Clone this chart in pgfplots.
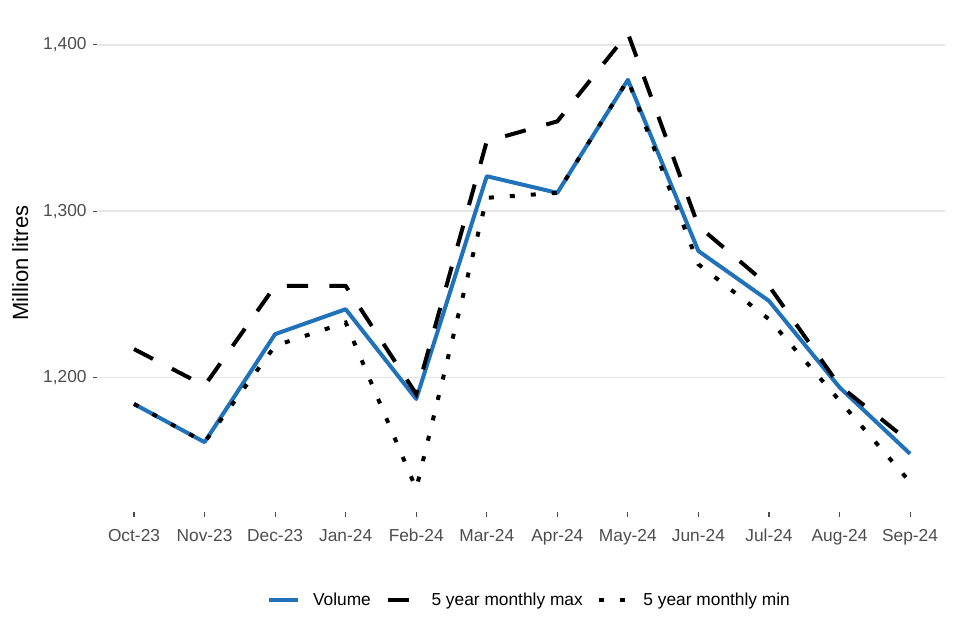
\documentclass[border=0pt]{standalone}
\usepackage{fontspec}
\setmainfont{Liberation Sans}
\usepackage{pgfplots}
\pgfplotsset{compat=1.18}
\definecolor{volblue}{HTML}{2072BA}
\definecolor{tickgrey}{HTML}{4D4D4D}
\definecolor{gridgrey}{HTML}{E5E5E5}

\begin{document}
\begin{tikzpicture}
\path[use as bounding box] (0,0) rectangle (720pt,480pt);
\begin{axis}[
    at={(73pt,96pt)}, anchor=south west,
    scale only axis,
    width=636pt, height=376.5pt,
    xmin=-0.52, xmax=11.5,
    ymin=1119, ymax=1421,
    xtick={0,...,11},
    xticklabels={Oct-23,Nov-23,Dec-23,Jan-24,Feb-24,Mar-24,Apr-24,May-24,Jun-24,Jul-24,Aug-24,Sep-24},
    ytick={1200,1300,1400},
    /pgf/number format/.cd, 1000 sep={,}, assume math mode=true,
    /pgfplots/.cd,
    axis line style={draw=none},
    xtick pos=bottom, ytick pos=left,
    tick align=outside,
    major tick length=3.5pt,
    tick style={draw=tickgrey, line width=0.8pt},
    ymajorgrids=true,
    grid style={gridgrey, line width=1pt},
    ticklabel style={font=\fontsize{13}{15}\selectfont, text=tickgrey},
    xticklabel style={text height=10pt, text depth=3pt, yshift=-5pt},
    yticklabel style={xshift=-1pt},
    ylabel={Million litres},
    ylabel style={font=\fontsize{16.5}{18}\selectfont,
        at={(axis description cs:-0.091,0.496)}, anchor=center},
    legend style={at={(0.51,-0.175)}, anchor=center, draw=none,
        font=\fontsize{13}{15}\selectfont, legend columns=3,
        /tikz/every odd column/.append style={column sep=7.5pt},
        /tikz/every even column/.append style={column sep=9pt}},
    legend image code/.code={\draw[#1] (0pt,0pt) -- (22pt,0pt);},
]
\addplot[volblue, line width=3pt, line join=round] coordinates {
    (0,1184) (1,1161) (2,1226) (3,1241) (4,1187) (5,1321)
    (6,1311) (7,1379) (8,1276) (9,1246) (10,1194) (11,1154)};
\addlegendentry{Volume}
\addplot[black, line width=3pt, dash pattern=on 16pt off 16pt] coordinates {
    (0,1217) (1,1195) (2,1255) (3,1255) (4,1190) (5,1342)
    (6,1354) (7,1407) (8,1291) (9,1255) (10,1195) (11,1161)};
\addlegendentry{5 year monthly max}
\addplot[black, line width=3pt, dash pattern=on 3.75pt off 12pt] coordinates {
    (0,1184) (1,1161) (2,1219) (3,1233) (4,1133) (5,1308)
    (6,1311) (7,1379) (8,1268) (9,1235) (10,1186) (11,1137)};
\addlegendentry{5 year monthly min}
\end{axis}
\end{tikzpicture}
\end{document}
